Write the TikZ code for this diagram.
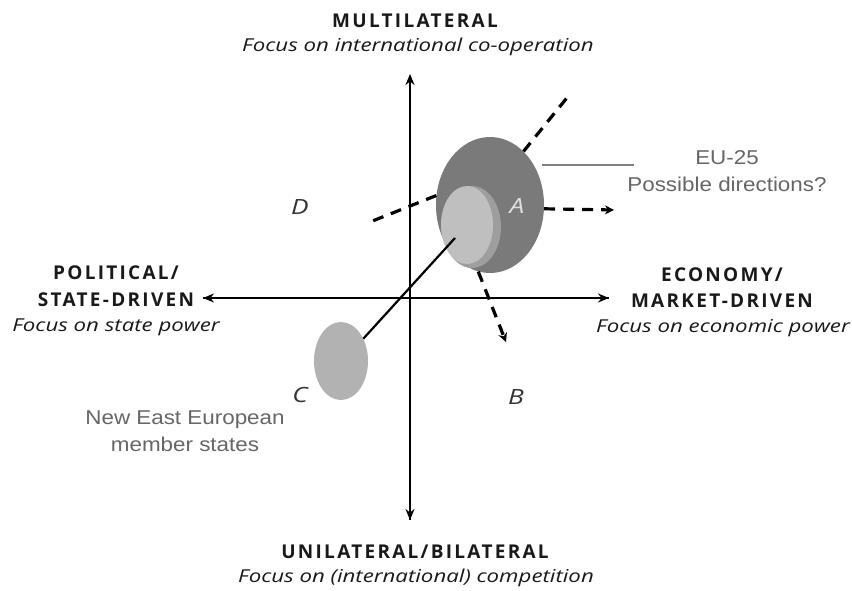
\documentclass[tikz,border=0pt]{standalone}
\usepackage{fontspec}
\setmainfont{Open Sans}
\newfontfamily\capsfont[LetterSpace=12]{Open Sans}
\newfontfamily\widefont[FakeStretch=1.25]{Open Sans}
\newfontfamily\notefont[FakeStretch=1.12]{Liberation Sans}
\usetikzlibrary{arrows.meta,shapes.geometric}
\begin{document}
\begin{tikzpicture}[x=1pt,y=-1pt,
  axis/.style={line width=1.9pt,-{Stealth[length=11pt,width=9pt]}},
  dir/.style={line width=3.2pt,dash pattern=on 11pt off 8pt},
  dirtip/.style={dir,-{Stealth[length=9pt,width=9pt]}},
  heading/.style={font=\capsfont\bfseries\fontsize{19}{19}\selectfont,text=black!90},
  focus/.style={font=\widefont\itshape\fontsize{17.8}{17.8}\selectfont,text=black!90},
  letter/.style={font=\widefont\itshape\fontsize{21}{21}\selectfont},
  note/.style={font=\notefont\fontsize{20}{20}\selectfont,text=black!60},
  blob/.style={ellipse,inner sep=0pt,draw=none},
  link/.style={line width=2.2pt}]
\useasboundingbox (0,0) rectangle (852,590);
\fill[white] (0,0) rectangle (852,590);

% axes
\coordinate (o) at (410,298);
\coordinate (top) at (410,74);
\coordinate (bot) at (410,520);
\coordinate (lft) at (203,298);
\coordinate (rgt) at (609,298);
\draw[axis] (bot) -- (top);
\draw[axis] (o) -- (bot);
\draw[axis] (rgt) -- (lft);
\draw[axis] (lft) -- (rgt);

% EU-25 and its core
\node[blob,fill=black!52,minimum width=108pt,minimum height=136pt] (eu25) at (490,205) {};
\node[blob,fill=black!38,minimum width=58pt,minimum height=82pt] (rim) at (472,227) {};
\node[blob,fill=black!25,minimum width=52pt,minimum height=78pt] (core) at (467,225) {};
\coordinate (corein) at (455,238);

% new member states
\node[blob,fill=black!30,minimum width=54pt,minimum height=78pt] (new) at (341,361) {};
\draw[link] (new.45) -- (corein);

% possible directions
\coordinate (ur1) at (570,94);
\coordinate (l1) at (370,222);
\coordinate (r1) at (614,210);
\coordinate (d1) at (506,342);
\draw[dir] (eu25.58) -- (ur1);
\draw[dir] (eu25.170) -- (l1);
\draw[dirtip] (eu25.-4) -- (r1);
\draw[dirtip] (eu25.-100) -- (d1);

% pointer to EU-25 label
\coordinate (p0) at (542,165);
\coordinate (p1) at (634,165);
\draw[black!50,line width=2pt] (p0) -- (p1);
\node[note] (eu) at (727,158) {EU-25};
\node[note] (pd) at (727,184) {Possible directions?};

% quadrant letters
\node[letter,text=black!12] (A) at (517,206) {A};
\node[letter,text=black!80] (D) at (300,207) {D};
\node[letter,text=black!80] (C) at (300,395) {C};
\node[letter,text=black!80] (B) at (516,397) {B};

% member states note
\node[note] (n1) at (185,420) {New East European};
\node[note] (n2) at (185,444) {member states};

% axis headings
\node[heading] (mt) at (415,21) {MULTILATERAL};
\node[focus] (mf) at (418,47) {Focus on international co-operation};
\node[heading] (ut) at (415,552) {UNILATERAL/BILATERAL};
\node[focus] (uf) at (416,578) {Focus on (international) competition};
\node[heading] (pt1) at (116,273) {POLITICAL/};
\node[heading] (pt2) at (116,300) {STATE-DRIVEN};
\node[focus] (pf) at (116,327) {Focus on state power};
\node[heading] (et1) at (722,275) {ECONOMY/};
\node[heading] (et2) at (722,301) {MARKET-DRIVEN};
\node[focus] (ef) at (723,328) {Focus on economic power};
\end{tikzpicture}
\end{document}
